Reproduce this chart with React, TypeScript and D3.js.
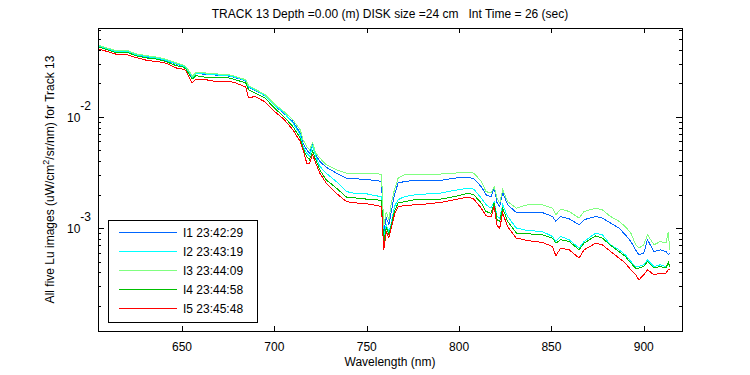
import React from "react";
import * as d3 from "d3";

const wavelengths = [605, 614, 620, 625, 631, 636, 641, 647, 650.5, 652, 654, 655.5, 657.5, 663, 668, 675.5, 679, 684.5, 686, 689.5, 695, 700, 705, 710, 714, 715.5, 717.5, 719, 720.7, 722.4, 724.6, 728, 733.5, 739, 744.5, 750, 755, 758, 759.2, 760.6, 762, 763.3, 765, 767, 770.5, 776, 783, 790, 797.5, 805, 808, 812, 814.6, 817.3, 819, 820.6, 822, 823.6, 826.3, 831, 837, 845, 850.6, 852.4, 855, 859.6, 865, 867.7, 874, 877.6, 882, 886.6, 890, 893, 895.6, 897.4, 900, 902, 905.5, 909, 912, 913.3, 914];

const I1 = [0.0426, 0.0384, 0.0387, 0.0359, 0.0344, 0.0335, 0.0322, 0.0296, 0.0286, 0.0276, 0.0249, 0.0224, 0.0244, 0.0241, 0.0237, 0.0232, 0.0224, 0.0210, 0.0185, 0.0173, 0.0154, 0.0126,
  0.0108, 0.00908, 0.00718, 0.0058, 0.00505, 0.00472, 0.0056, 0.00456, 0.00397, 0.00353, 0.00312, 0.00281, 0.00277, 0.00272, 0.00268, 0.00262, 0.000908, 0.00124, 0.00107, 0.00141, 0.00199, 0.00254, 0.00262, 0.00268, 0.00268, 0.00268, 0.00281, 0.00287, 0.00276, 0.00236, 0.00199, 0.0019, 0.00229, 0.00168, 0.00156, 0.00209, 0.00162, 0.00138, 0.00138, 0.00138, 0.00127, 0.00115, 0.00127, 0.00121, 0.00107, 0.00119, 0.00127, 0.00123, 0.00111, 0.001, 0.000871, 0.000758, 0.000638, 0.000576, 0.000596, 0.000785, 0.000616, 0.000638, 0.000616, 0.000576, 0.000596];

const I2 = [0.0429, 0.0386, 0.0388, 0.0361, 0.0346, 0.0337, 0.0323, 0.0298, 0.0287, 0.0277, 0.0250, 0.0226, 0.0245, 0.0242, 0.0238, 0.0233, 0.0226, 0.0211, 0.0186, 0.0174, 0.0155, 0.0127,
  0.01093, 0.00878, 0.00689, 0.00541, 0.00472, 0.0044, 0.00541, 0.0044, 0.00358, 0.00312, 0.00262, 0.00213, 0.00203, 0.00203, 0.00195, 0.00192, 0.000836, 0.00107, 0.000927, 0.00111, 0.00156, 0.0018, 0.00192, 0.00199, 0.00203, 0.00206, 0.00218, 0.00229, 0.00224, 0.00186, 0.00162, 0.00151, 0.00173, 0.00127, 0.00123, 0.00162, 0.00127, 0.001, 0.000952, 0.000932, 0.000841, 0.000758, 0.000841, 0.000785, 0.000661, 0.000758, 0.000902, 0.000871, 0.000708, 0.000638, 0.000576, 0.000501, 0.000452, 0.000452, 0.000468, 0.000519, 0.000452, 0.000468, 0.000452, 0.000485, 0.000452];

const I3 = [0.0437, 0.0394, 0.0396, 0.0368, 0.0353, 0.0344, 0.0330, 0.0304, 0.0293, 0.0283, 0.0255, 0.0230, 0.0250, 0.0247, 0.0243, 0.0238, 0.0230, 0.0215, 0.0190, 0.0177, 0.0158, 0.0130,
  0.0112, 0.0094, 0.00764, 0.00622, 0.00541, 0.00505, 0.0058, 0.00472, 0.00426, 0.00371, 0.00334, 0.00312, 0.00312, 0.00312, 0.00312, 0.00301, 0.00105, 0.0014, 0.00119, 0.00168, 0.00221, 0.00281, 0.00301, 0.00306, 0.00306, 0.00306, 0.00312, 0.00316, 0.00312, 0.00262, 0.00213, 0.00206, 0.00236, 0.00186, 0.00168, 0.00221, 0.00173, 0.00151, 0.00162, 0.00162, 0.00151, 0.00132, 0.00148, 0.00141, 0.00123, 0.00141, 0.00151, 0.00146, 0.00127, 0.00115, 0.00103, 0.000902, 0.000708, 0.000661, 0.000708, 0.000871, 0.000708, 0.000758, 0.000733, 0.000927, 0.000638];

const I4 = [0.0423, 0.0378, 0.0381, 0.0353, 0.0337, 0.0330, 0.0314, 0.0287, 0.0280, 0.0270, 0.0238, 0.0218, 0.0234, 0.0226, 0.0223, 0.0223, 0.0215, 0.0201, 0.0175, 0.0163, 0.0147, 0.0120,
  0.01006, 0.00818, 0.00644, 0.00523, 0.0044, 0.00411, 0.00488, 0.00411, 0.00334, 0.00272, 0.00229, 0.0019, 0.00186, 0.00182, 0.0018, 0.00177, 0.000738, 0.00101, 0.000871, 0.00107, 0.00141, 0.00168, 0.00173, 0.0018, 0.00182, 0.00182, 0.00192, 0.00206, 0.00199, 0.00168, 0.00141, 0.00136, 0.00168, 0.00119, 0.00115, 0.00151, 0.00115, 0.000902, 0.000889, 0.000871, 0.000813, 0.000733, 0.000785, 0.000758, 0.000638, 0.000733, 0.000853, 0.000813, 0.0007, 0.000616, 0.000556, 0.000485, 0.000437, 0.000437, 0.000452, 0.000501, 0.000437, 0.000452, 0.000437, 0.000491, 0.000452];

const I5 = [0.0406, 0.0366, 0.0361, 0.0341, 0.0321, 0.0314, 0.0304, 0.0274, 0.0268, 0.0261, 0.0223, 0.0201, 0.0218, 0.0215, 0.0208, 0.0208, 0.0201, 0.0185, 0.0148, 0.0152, 0.0136, 0.0112,
  0.00954, 0.00764, 0.006, 0.00505, 0.00384, 0.00384, 0.00456, 0.00384, 0.00312, 0.00254, 0.00206, 0.00173, 0.00168, 0.00165, 0.0016, 0.00156, 0.000638, 0.000927, 0.000818, 0.001, 0.00132, 0.00156, 0.00159, 0.00162, 0.00165, 0.0017, 0.0018, 0.0019, 0.00182, 0.00151, 0.00129, 0.00126, 0.00156, 0.00105, 0.001, 0.00136, 0.00103, 0.000813, 0.000774, 0.000743, 0.000683, 0.000564, 0.000661, 0.000638, 0.000538, 0.000638, 0.000733, 0.000708, 0.000616, 0.000538, 0.000485, 0.000422, 0.000381, 0.000343, 0.000381, 0.000422, 0.000381, 0.000394, 0.000394, 0.000422, 0.000422];

const seriesNames = ["I1 23:42:29", "I2 23:43:19", "I3 23:44:09", "I4 23:44:58", "I5 23:45:48"];
const seriesColors = ["#0066ff", "#00ffff", "#80ff80", "#00bf00", "#ff0000"];
const seriesValues = [I1, I2, I3, I4, I5];

const xTicks = [650, 700, 750, 800, 850, 900];
const yMajor = [1e-3, 1e-2];
const yMajorExp = ["-3", "-2"];

const title = "TRACK 13 Depth =0.00 (m) DISK size =24 cm   Int Time = 26 (sec)";
const xLabel = "Wavelength (nm)";
const yLabelPre = "All five Lu images (uW/cm";
const yLabelPost = "/sr/nm) for Track 13";

const FONT = "'Liberation Sans', Arial, Helvetica, sans-serif";

export default function App() {
  const W = 750, H = 375;
  const L = 98, R = 682, T = 28, B = 331;
  const x = d3.scaleLinear().domain([604.5, 920.7]).range([L, R]);
  const y = d3.scaleLog().domain([1.19e-4, 0.0627]).range([B, T]);
  const line = d3.line<number>()
    .x((_, i) => x(wavelengths[i]))
    .y((v) => y(v));

  const minor: number[] = [];
  for (const dec of [1e-4, 1e-3, 1e-2]) {
    for (let k = 2; k <= 9; k++) {
      const v = dec * k;
      if (v >= 1.19e-4 && v <= 0.0627) minor.push(v);
    }
  }

  const legX = 108, legY = 220, legW = 149, legH = 102;

  return (
    <svg width={W} height={H} style={{ position: "absolute", left: 0, top: 0, background: "#fff" }} fontFamily={FONT}>
      <rect x={0} y={0} width={W} height={H} fill="#fff" />
      <text x={(L + R) / 2} y={18} fontSize={12} textAnchor="middle" style={{ whiteSpace: "pre" }}>{title}</text>
      <defs>
        <clipPath id="clip"><rect x={L} y={T} width={R - L} height={B - T} /></clipPath>
      </defs>
      <g clipPath="url(#clip)">
        {seriesValues.map((vals, i) => (
          <path key={i} d={line(vals) || ""} fill="none" stroke={seriesColors[i]} strokeWidth={1} shapeRendering="crispEdges" />
        ))}
      </g>
      <g shapeRendering="crispEdges" stroke="#000" strokeWidth={1}>
        <rect x={L + 0.5} y={T + 0.5} width={R - L} height={B - T} fill="none" />
        {xTicks.map((t) => (
          <g key={t}>
            <line x1={Math.round(x(t)) + 0.5} x2={Math.round(x(t)) + 0.5} y1={B} y2={B - 5} />
            <line x1={Math.round(x(t)) + 0.5} x2={Math.round(x(t)) + 0.5} y1={T} y2={T + 5} />
          </g>
        ))}
        {yMajor.map((t) => (
          <g key={t}>
            <line x1={L} x2={L + 6} y1={Math.round(y(t)) + 0.5} y2={Math.round(y(t)) + 0.5} />
            <line x1={R} x2={R - 6} y1={Math.round(y(t)) + 0.5} y2={Math.round(y(t)) + 0.5} />
          </g>
        ))}
        {minor.map((t) => (
          <g key={t}>
            <line x1={L} x2={L + 3} y1={Math.round(y(t)) + 0.5} y2={Math.round(y(t)) + 0.5} />
            <line x1={R} x2={R - 3} y1={Math.round(y(t)) + 0.5} y2={Math.round(y(t)) + 0.5} />
          </g>
        ))}
      </g>
      {xTicks.map((t) => (
        <text key={t} x={x(t)} y={351} fontSize={12} textAnchor="middle">{t}</text>
      ))}
      {yMajor.map((t, i) => (
        <text key={t} x={67} y={y(t) + 5} fontSize={12} textAnchor="start">
          10
          <tspan dy={-12} fontSize={12}>{yMajorExp[i]}</tspan>
        </text>
      ))}
      <text x={(L + R) / 2} y={366} fontSize={12} textAnchor="middle">{xLabel}</text>
      <text transform={`translate(54, ${(T + B) / 2}) rotate(-90)`} fontSize={12} textAnchor="middle">
        {yLabelPre}
        <tspan dy={-5} fontSize={9}>2</tspan>
        <tspan dy={5}>{yLabelPost}</tspan>
      </text>
      <g>
        <rect x={legX + 0.5} y={legY + 0.5} width={legW} height={legH} fill="#fff" stroke="#000" shapeRendering="crispEdges" />
        {seriesNames.map((n, i) => (
          <g key={n}>
            <line x1={119} x2={177} y1={232.5 + i * 19} y2={232.5 + i * 19} stroke={seriesColors[i]} shapeRendering="crispEdges" />
            <text x={183} y={236.5 + i * 19} fontSize={12}>{n}</text>
          </g>
        ))}
      </g>
    </svg>
  );
}
